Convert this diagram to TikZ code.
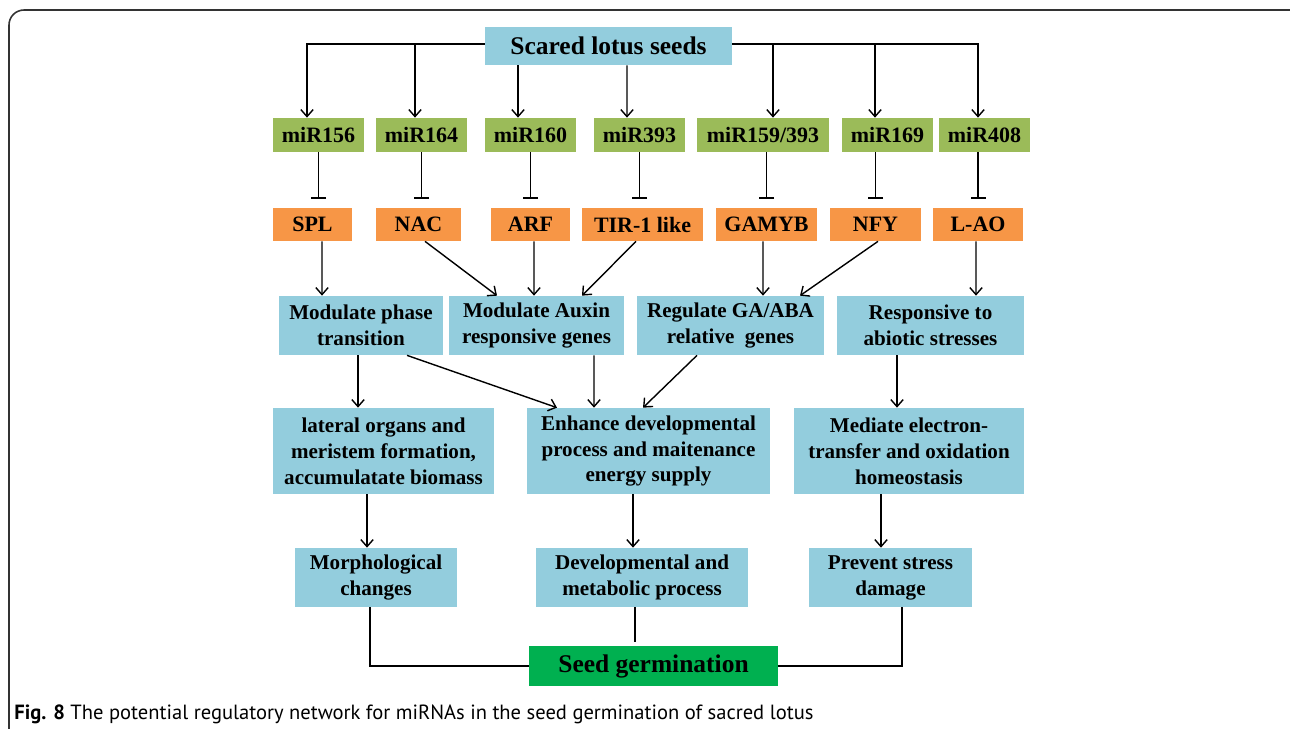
\documentclass[tikz,border=0pt]{standalone}
\usepackage{fontspec}
\setmainfont{Liberation Serif}
\setsansfont{PT Sans}
\usetikzlibrary{arrows.meta,calc}
\definecolor{procblue}{HTML}{93CDDD}
\definecolor{mirgreen}{HTML}{9BBB59}
\definecolor{geneorange}{HTML}{F79646}
\definecolor{seedgreen}{HTML}{00B050}
\definecolor{framecol}{HTML}{333333}

\tikzset{
	box/.style={inner sep=0pt,align=center,font=\bfseries\fontsize{12}{14.7}\selectfont},
	mirbox/.style={box,fill=mirgreen,minimum height=0.68cm,font=\bfseries\fontsize{12.5}{14}\selectfont},
	genebox/.style={box,fill=geneorange,minimum height=0.66cm,font=\bfseries\fontsize{12.5}{14}\selectfont},
	procbox/.style={box,fill=procblue},
	arr/.style={line width=0.8pt,-{Straight Barb[length=4pt,width=7pt]}},
	inh/.style={line width=0.8pt,-{Bar[width=0.3cm,line width=0.8pt]},shorten >=0.18cm},
	link/.style={line width=0.8pt}
}

\begin{document}
\begin{tikzpicture}[x=0.02cm,y=-0.02cm]
\useasboundingbox (0,0) rectangle (1290,728);
\draw[framecol,line width=0.9pt,rounded corners=0.3cm] (9,10) rectangle (1320,760);

\node[procbox,minimum width=4.94cm,minimum height=0.76cm,font=\bfseries\fontsize{14.5}{16}\selectfont] (top) at (608.5,46) {Scared lotus seeds};

% miRNAs
\node[mirbox,minimum width=1.82cm] (m156) at (318.5,135) {miR156};
\node[mirbox,minimum width=1.82cm] (m164) at (421.5,135) {miR164};
\node[mirbox,minimum width=1.82cm] (m160) at (530.5,135) {miR160};
\node[mirbox,minimum width=1.82cm] (m393) at (639.5,135) {miR393};
\node[mirbox,minimum width=2.64cm] (m159) at (763,135) {miR159/393};
\node[mirbox,minimum width=1.82cm] (m169) at (887.5,135) {miR169};
\node[mirbox,minimum width=1.82cm] (m408) at (984.5,135) {miR408};

% targets
\node[genebox,minimum width=1.58cm] (spl) at (312.5,224.5) {SPL};
\node[genebox,minimum width=1.70cm] (nac) at (418.5,224.5) {NAC};
\node[genebox,minimum width=1.58cm] (arf) at (530.5,224.5) {ARF};
\node[genebox,minimum width=2.42cm] (tir) at (642.5,224.5) {TIR-1 like};
\node[genebox,minimum width=2.02cm] (gamyb) at (766.5,224.5) {GAMYB};
\node[genebox,minimum width=1.82cm] (nfy) at (875.5,224.5) {NFY};
\node[genebox,minimum width=1.80cm] (lao) at (978,224.5) {L-AO};

% functions
\node[procbox,minimum width=3.28cm,minimum height=1.18cm] (phase) at (361,325.5) {Modulate phase\\transition};
\node[procbox,minimum width=3.50cm,minimum height=1.18cm] (auxin) at (536.5,325.5) {Modulate Auxin\\responsive genes};
\node[procbox,minimum width=3.74cm,minimum height=1.18cm] (gaaba) at (730.5,325.5) {Regulate GA/ABA\\relative \ genes};
\node[procbox,minimum width=3.74cm,minimum height=1.18cm] (abiotic) at (930.5,325.5) {Responsive to\\abiotic stresses};

\node[procbox,minimum width=4.42cm,minimum height=1.72cm] (lateral) at (383.5,451) {lateral organs and\\meristem formation,\\accumulatate biomass};
\node[procbox,minimum width=4.86cm,minimum height=1.72cm] (enhance) at (648.5,451) {Enhance developmental\\process and maitenance\\energy supply};
\node[procbox,minimum width=4.60cm,minimum height=1.72cm] (mediate) at (909,451) {Mediate electron-\\transfer and oxidation\\homeostasis};

\node[procbox,minimum width=3.24cm,minimum height=1.18cm] (morph) at (376,577.5) {Morphological\\changes};
\node[procbox,minimum width=4.24cm,minimum height=1.18cm] (devmet) at (642,577.5) {Developmental and\\metabolic process};
\node[procbox,minimum width=3.26cm,minimum height=1.18cm] (prevent) at (890.5,577.5) {Prevent stress\\damage};

\node[box,fill=seedgreen,minimum width=4.98cm,minimum height=0.80cm,font=\bfseries\fontsize{14.5}{16}\selectfont] (seed) at (653.5,666) {Seed germination};

% seeds to miRNAs
\foreach \m/\dx in {m156/-11.5,m164/-6.5}
	\draw[arr] ($(top.west)+(0,-2)$) -| ($(\m.north)+(\dx,0)$);
\foreach \m/\dx in {m159/10,m169/-12.5,m408/-6.5}
	\draw[arr] ($(top.east)+(0,-2)$) -| ($(\m.north)+(\dx,0)$);
\draw[arr] ($(top.south)+(-90.5,0)$) -- ($(m160.north)+(-12.5,0)$);
\draw[arr] ($(top.south)+(18.5,0)$) -- ($(m393.north)+(-12.5,0)$);

% miRNAs repress targets
\foreach \m/\g in {m156/spl,m164/nac,m160/arf,m393/tir}
	\draw[inh] (\m.south) -- (\m.south |- \g.north);
\foreach \m/\g in {m159/gamyb,m169/nfy,m408/lao}
	\draw[inh] (\g.north |- \m.south) -- (\g.north);

% targets to functions
\draw[arr] ($(spl.south)+(9.5,0)$) -- ($(phase.north)+(-39,0)$);
\draw[arr] ($(nac.south)+(6.5,0)$) -- ($(auxin.north)+(-39.5,0)$);
\draw[arr] ($(arf.south)+(3.5,0)$) -- ($(auxin.north)+(-2.5,0)$);
\draw[arr] ($(tir.south)+(-6.5,0)$) -- ($(auxin.north)+(45.5,0)$);
\draw[arr] ($(gamyb.south)+(-3.5,0)$) -- ($(gaaba.north)+(32.5,0)$);
\draw[arr] ($(nfy.south)+(2.5,0)$) -- ($(gaaba.north)+(69.5,0)$);
\draw[arr] ($(lao.south)+(-2,0)$) -- ($(abiotic.north)+(45.5,0)$);

\draw[arr] ($(phase.south)+(-3,0)$) -- ($(lateral.north)+(-25.5,0)$);
\draw[arr] ($(phase.south)+(46,0)$) -- ($(enhance.north)+(-91.5,0)$);
\draw[arr] ($(auxin.south)+(57.5,0)$) -- ($(enhance.north)+(-54.5,0)$);
\draw[arr] ($(gaaba.south)+(-33.5,0)$) -- ($(enhance.north)+(-5.5,0)$);
\draw[arr] ($(abiotic.south)+(-33.5,0)$) -- ($(mediate.north)+(-12,0)$);

\draw[arr] ($(lateral.south)+(-16.5,0)$) -- ($(morph.north)+(-9,0)$);
\draw[arr] ($(enhance.south)+(-15.5,0)$) -- ($(devmet.north)+(-9,0)$);
\draw[arr] ($(mediate.south)+(-28,0)$) -- ($(prevent.north)+(-9.5,0)$);

% into germination
\draw[link] ($(morph.south)+(-6,0)$) |- (seed.west);
\draw[link] ($(devmet.south)+(-7,0)$) -- ($(seed.north)+(-18.5,-4)$);
\draw[link] ($(prevent.south)+(11.5,0)$) |- (seed.east);

\node[anchor=base west,inner sep=0pt,font=\sffamily\fontsize{11.7}{13}\selectfont] (caption) at (14,719) {\textbf{Fig. 8} The potential regulatory network for miRNAs in the seed germination of sacred lotus};
\end{tikzpicture}
\end{document}
